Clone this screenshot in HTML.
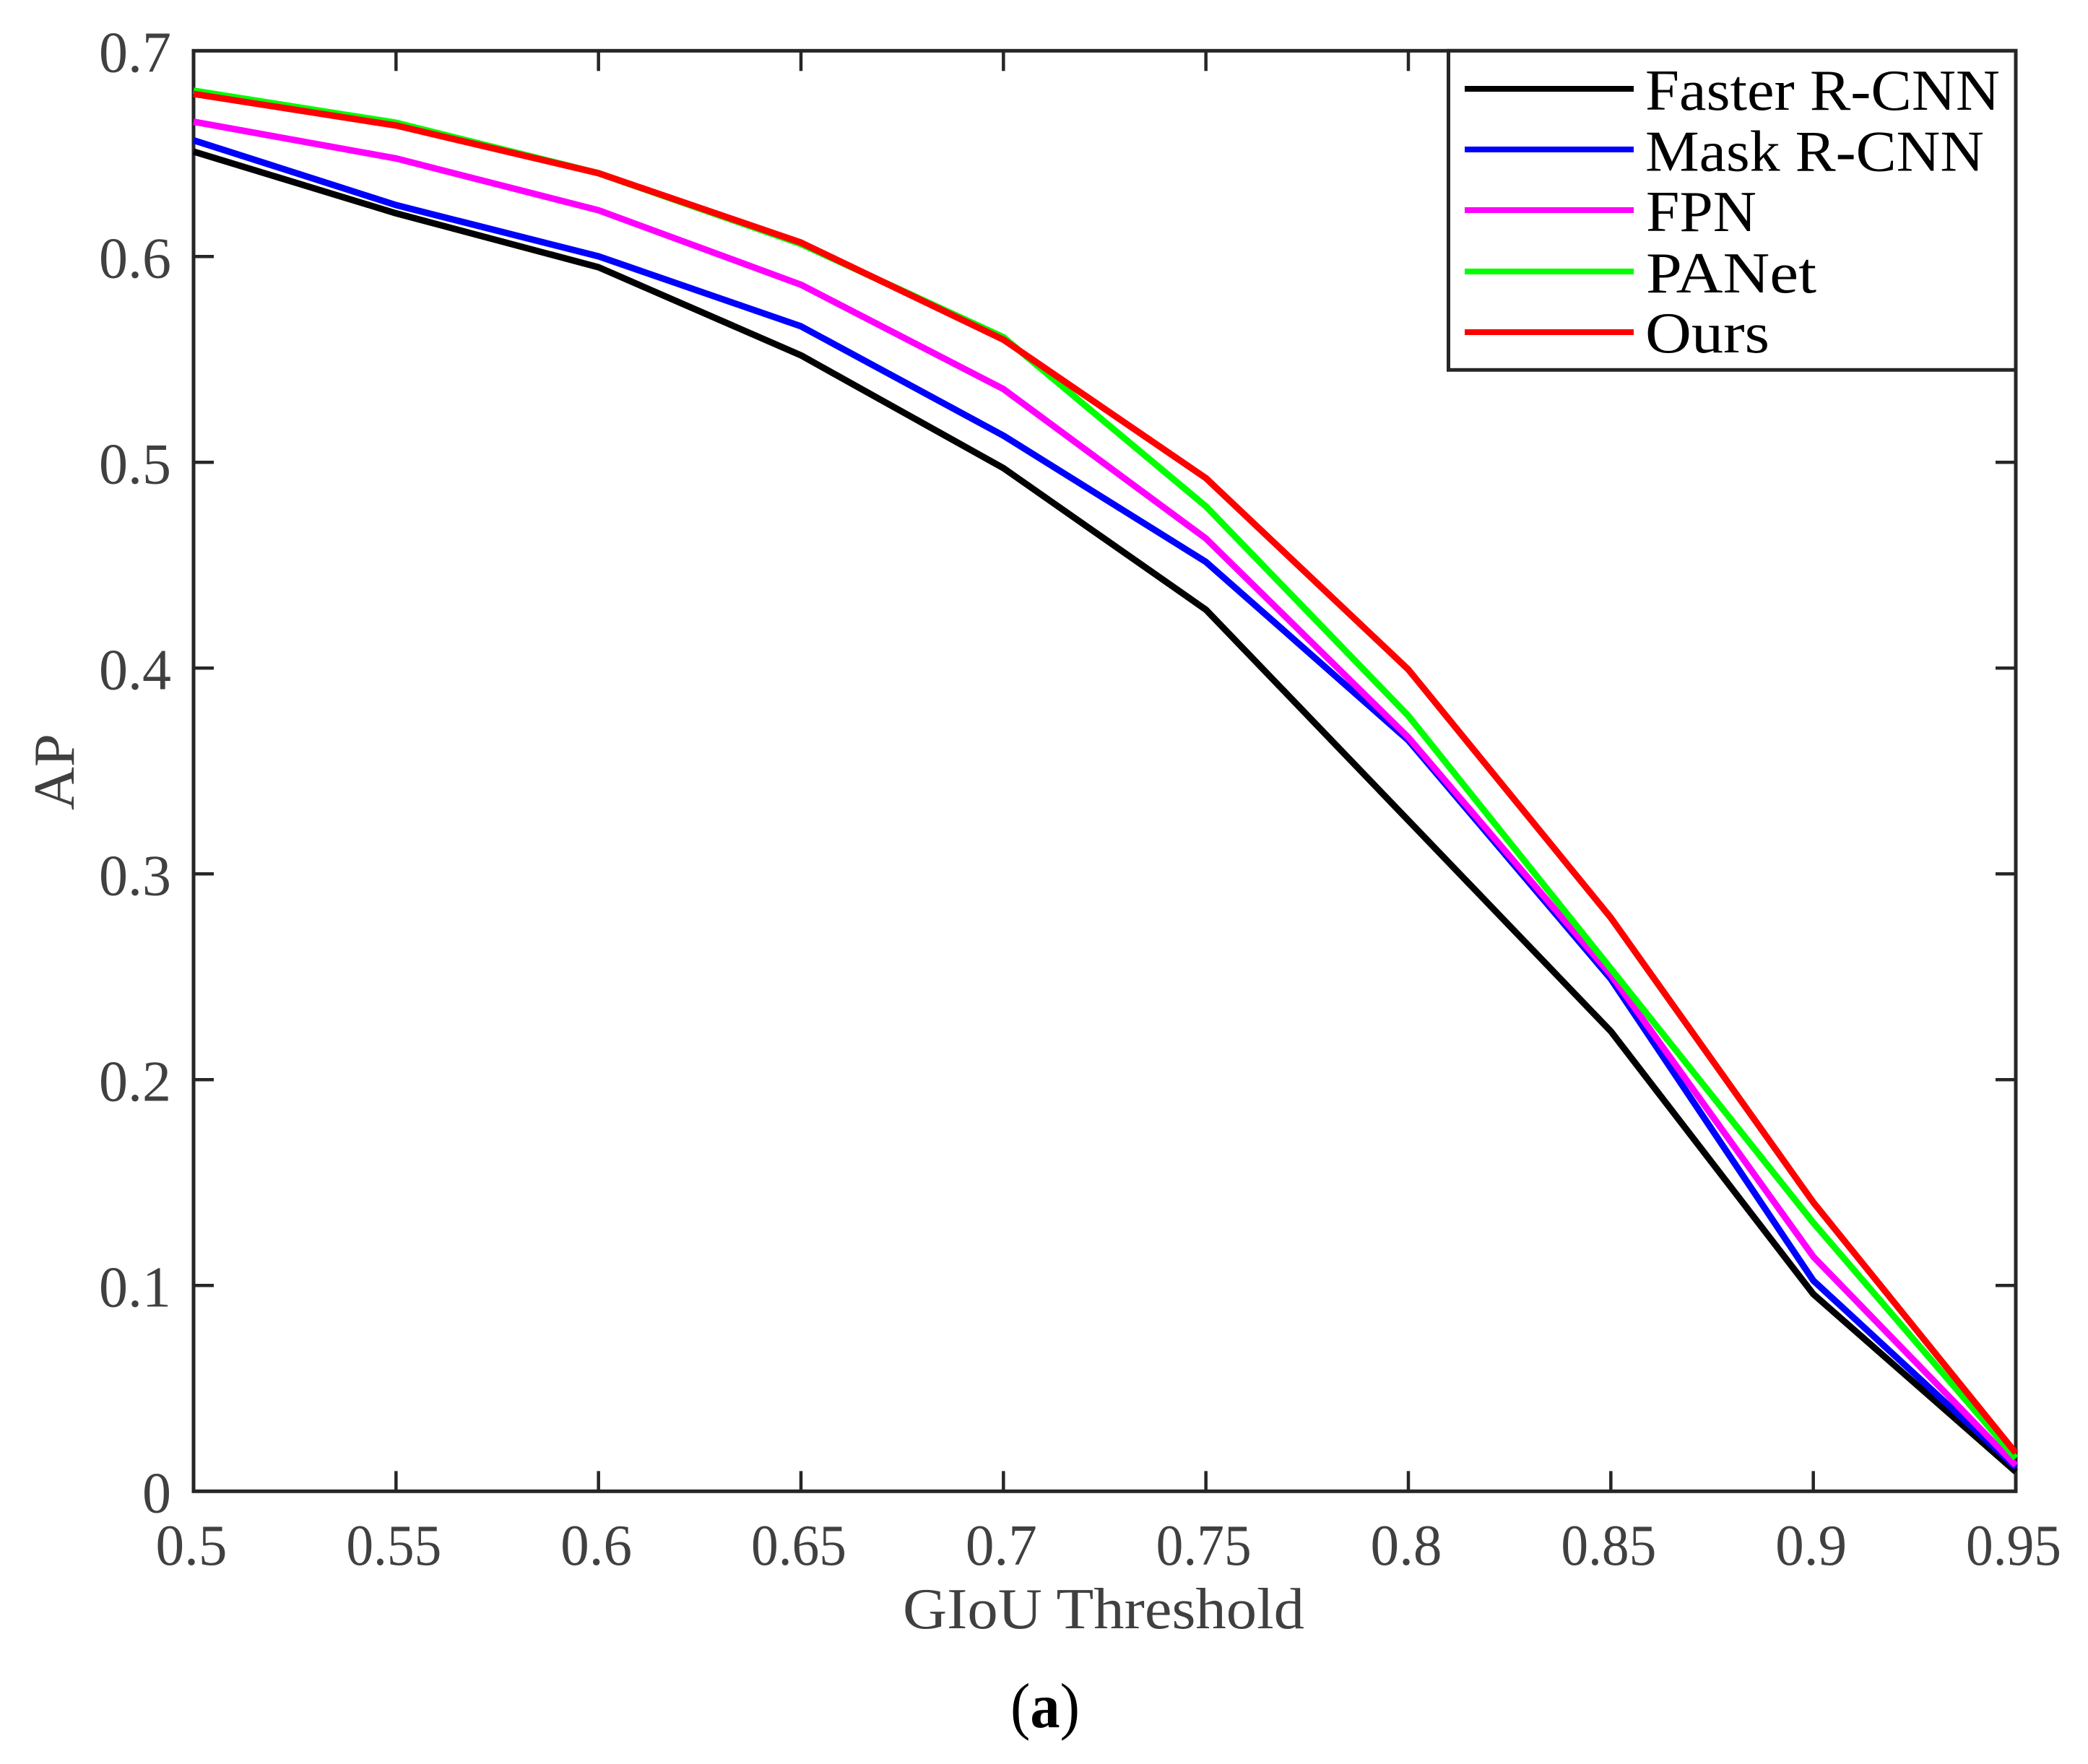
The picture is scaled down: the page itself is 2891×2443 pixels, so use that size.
<!DOCTYPE html>
<html lang="en">
<head>
<meta charset="utf-8">
<title>AP vs GIoU Threshold</title>
<style>
  html, body { margin: 0; padding: 0; background: #fff; }
  svg { display: block; }
  text { font-family: "Liberation Serif", serif; }
</style>
</head>
<body>
<svg id="chart" xmlns="http://www.w3.org/2000/svg" width="2891" height="2443" viewBox="0 0 2891 2443">
  <rect x="0" y="0" width="2891" height="2443" fill="#ffffff"/>
  <g id="ticks"></g>
  <rect x="268" y="70.3" width="2523" height="1995" fill="none" stroke="#262626" stroke-width="5"/>
  <g id="tick-labels"></g>
  <g id="series"></g>
  <text x="1250" y="2255" font-size="80" fill="#404040" textLength="556" lengthAdjust="spacingAndGlyphs">GIoU Threshold</text>
  <text transform="translate(102,1122) rotate(-90)" font-size="80" fill="#404040" textLength="106" lengthAdjust="spacingAndGlyphs">AP</text>
  <text x="1399" y="2392" font-size="88" fill="#000000" textLength="96" lengthAdjust="spacingAndGlyphs">(<tspan font-weight="bold">a</tspan>)</text>
  <g>
    <rect x="2005.5" y="70.3" width="785.5" height="442" fill="#ffffff" stroke="#262626" stroke-width="5"/>
    <g>
      <line x1="2028" y1="123" x2="2262" y2="123" stroke="#000000" stroke-width="8"/>
      <text x="2278" y="152" font-size="80" fill="#000000" textLength="491" lengthAdjust="spacingAndGlyphs">Faster R-CNN</text>
    </g>
    <g>
      <line x1="2028" y1="207" x2="2262" y2="207" stroke="#0000ff" stroke-width="8"/>
      <text x="2278" y="236.5" font-size="80" fill="#000000" textLength="469" lengthAdjust="spacingAndGlyphs">Mask R-CNN</text>
    </g>
    <g>
      <line x1="2028" y1="291" x2="2262" y2="291" stroke="#ff00ff" stroke-width="8"/>
      <text x="2279" y="320" font-size="80" fill="#000000" textLength="153" lengthAdjust="spacingAndGlyphs">FPN</text>
    </g>
    <g>
      <line x1="2028" y1="376" x2="2262" y2="376" stroke="#00ff00" stroke-width="8"/>
      <text x="2279" y="405" font-size="80" fill="#000000" textLength="236" lengthAdjust="spacingAndGlyphs">PANet</text>
    </g>
    <g>
      <line x1="2028" y1="460" x2="2262" y2="460" stroke="#ff0000" stroke-width="8"/>
      <text x="2278" y="488" font-size="80" fill="#000000" textLength="172" lengthAdjust="spacingAndGlyphs">Ours</text>
    </g>
  </g>
</svg>
<script>
const thresholds = [0.5, 0.55, 0.6, 0.65, 0.7, 0.75, 0.8, 0.85, 0.9, 0.95];
const xTickLabels = ["0.5", "0.55", "0.6", "0.65", "0.7", "0.75", "0.8", "0.85", "0.9", "0.95"];
const yTicks = [0, 0.1, 0.2, 0.3, 0.4, 0.5, 0.6, 0.7];
const yTickLabels = ["0", "0.1", "0.2", "0.3", "0.4", "0.5", "0.6", "0.7"];
const fasterRcnn = [0.651, 0.621, 0.5948, 0.552, 0.4972, 0.4284, 0.326, 0.2235, 0.0958, 0.0095];
const maskRcnn = [0.6565, 0.625, 0.6001, 0.5661, 0.513, 0.4516, 0.3649, 0.249, 0.1024, 0.0116];
const fpn = [0.6655, 0.6477, 0.6225, 0.5863, 0.5356, 0.463, 0.3663, 0.251, 0.114, 0.0126];
const panet = [0.6806, 0.665, 0.6405, 0.6061, 0.5608, 0.4786, 0.3768, 0.254, 0.1305, 0.0161];
const ours = [0.679, 0.6637, 0.6405, 0.6068, 0.5596, 0.4923, 0.3993, 0.2787, 0.1404, 0.0186];

const SVG_NS = "http://www.w3.org/2000/svg";
const plotLeft = 268, plotRight = 2791, plotTop = 70.3, plotBottom = 2065.3;
const xMin = 0.5, xMax = 0.95, yMin = 0, yMax = 0.7;
const tickLength = 28;

function xScale(t) {
  return plotLeft + (t - xMin) / (xMax - xMin) * (plotRight - plotLeft);
}
function yScale(v) {
  return plotBottom - (v - yMin) / (yMax - yMin) * (plotBottom - plotTop);
}
function makeTick(parent, x1, y1, x2, y2) {
  const el = document.createElementNS(SVG_NS, "line");
  el.setAttribute("x1", x1);
  el.setAttribute("y1", y1);
  el.setAttribute("x2", x2);
  el.setAttribute("y2", y2);
  el.setAttribute("stroke", "#262626");
  el.setAttribute("stroke-width", "4.5");
  parent.appendChild(el);
  return el;
}
function makeLabel(parent, x, y, anchor, content) {
  const el = document.createElementNS(SVG_NS, "text");
  el.setAttribute("x", x);
  el.setAttribute("y", y);
  el.setAttribute("text-anchor", anchor);
  el.setAttribute("font-size", "80");
  el.setAttribute("fill", "#404040");
  el.textContent = content;
  parent.appendChild(el);
  return el;
}

const tickGroup = document.getElementById("ticks");
const labelGroup = document.getElementById("tick-labels");

thresholds.forEach(function (t, i) {
  const x = xScale(t);
  const bottomTick = makeTick(tickGroup, x, plotBottom, x, plotBottom - tickLength);
  
  
  const topTick = makeTick(tickGroup, x, plotTop, x, plotTop + tickLength);
  
  
  const label = makeLabel(labelGroup, x - 3, 2167, "middle", xTickLabels[i]);
  label.setAttribute("textLength", xTickLabels[i].length * 33);
  label.setAttribute("lengthAdjust", "spacingAndGlyphs");
  
  
});

yTicks.forEach(function (v, i) {
  const y = yScale(v);
  const leftTick = makeTick(tickGroup, plotLeft, y, plotLeft + tickLength, y);
  
  
  const rightTick = makeTick(tickGroup, plotRight, y, plotRight - tickLength, y);
  
  
  const label = makeLabel(labelGroup, 237, y + 29, "end", yTickLabels[i]);
  
  
});

function drawSeries(values, color) {
  const path = document.createElementNS(SVG_NS, "polyline");
  const pts = values.map(function (v, i) {
    return xScale(thresholds[i]).toFixed(1) + "," + yScale(v).toFixed(1);
  });
  path.setAttribute("points", pts.join(" "));
  path.setAttribute("fill", "none");
  path.setAttribute("stroke", color);
  path.setAttribute("stroke-width", "9");
  path.setAttribute("stroke-linejoin", "round");
  path.setAttribute("stroke-linecap", "butt");
  document.getElementById("series").appendChild(path);
  return path;
}

const lineFaster = drawSeries(fasterRcnn, "#000000");


const lineMask = drawSeries(maskRcnn, "#0000ff");


const lineFpn = drawSeries(fpn, "#ff00ff");


const linePanet = drawSeries(panet, "#00ff00");


const lineOurs = drawSeries(ours, "#ff0000");


</script>
</body>
</html>
